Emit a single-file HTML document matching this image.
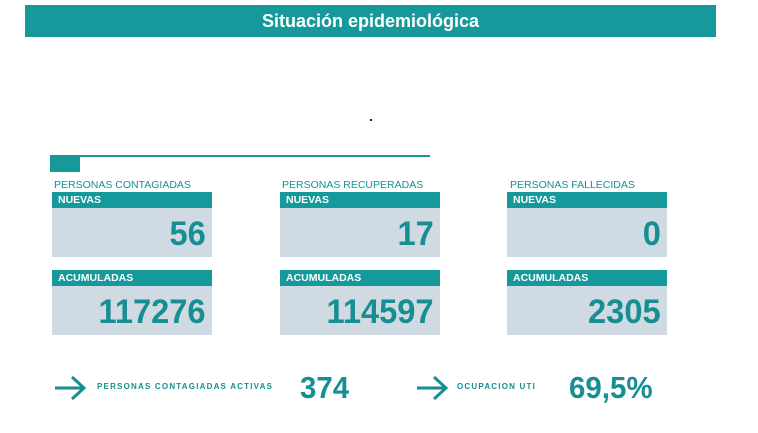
<!DOCTYPE html>
<html><head><meta charset="utf-8"><style>
body{margin:0;width:758px;height:433px;background:#fff;position:relative;overflow:hidden;font-family:"Liberation Sans",sans-serif;}
.a{position:absolute}
.hdr{left:25px;top:5px;width:691px;height:32px;background:#16999a;color:#fff;font-weight:bold;font-size:18px;text-align:center;line-height:32px}
.lbl{font-size:10.5px;color:#178f92;}
.bh{background:#16999a;color:#fff;font-weight:bold;font-size:10.5px;line-height:16px;padding-left:6px;box-sizing:border-box;width:160px;height:16px}
.bb{background:#d0dae2;width:160px;height:49px;box-sizing:border-box;padding-right:6px;text-align:right}
.bb span{display:inline-block;color:#178f92;font-weight:bold;font-size:34px;line-height:52px;transform:scaleX(0.96);transform-origin:right}
.num{color:#178f92;font-weight:bold;font-size:31px;transform:scaleX(0.95);transform-origin:left}
.sm{color:#178f92;font-size:8px;font-weight:bold;letter-spacing:1.2px}
</style></head><body>
<div class="a hdr">Situación epidemiológica</div>
<div class="a" style="left:370px;top:119px;width:2px;height:2px;background:#222"></div>
<div class="a" style="left:50px;top:155px;width:380px;height:2px;background:#16999a"></div>
<div class="a" style="left:50px;top:156px;width:30px;height:16px;background:#16999a"></div>

<div class="a lbl" style="left:54px;top:179px">PERSONAS CONTAGIADAS</div>
<div class="a lbl" style="left:282px;top:179px">PERSONAS RECUPERADAS</div>
<div class="a lbl" style="left:510px;top:179px">PERSONAS FALLECIDAS</div>

<div class="a bh" style="left:52px;top:192px">NUEVAS</div>
<div class="a bb" style="left:52px;top:208px"><span>56</span></div>
<div class="a bh" style="left:280px;top:192px">NUEVAS</div>
<div class="a bb" style="left:280px;top:208px"><span>17</span></div>
<div class="a bh" style="left:507px;top:192px">NUEVAS</div>
<div class="a bb" style="left:507px;top:208px"><span>0</span></div>

<div class="a bh" style="left:52px;top:270px">ACUMULADAS</div>
<div class="a bb" style="left:52px;top:286px"><span>117276</span></div>
<div class="a bh" style="left:280px;top:270px">ACUMULADAS</div>
<div class="a bb" style="left:280px;top:286px"><span>114597</span></div>
<div class="a bh" style="left:507px;top:270px">ACUMULADAS</div>
<div class="a bb" style="left:507px;top:286px"><span>2305</span></div>

<svg class="a" style="left:52px;top:374px" width="36" height="28"><path d="M3 14H32M20 3L32 14L20 25" fill="none" stroke="#178f92" stroke-width="3"/></svg>
<div class="a sm" style="left:97px;top:382px">PERSONAS CONTAGIADAS ACTIVAS</div>
<div class="a num" style="left:300px;top:370px">374</div>
<svg class="a" style="left:414px;top:374px" width="36" height="28"><path d="M3 14H32M20 3L32 14L20 25" fill="none" stroke="#178f92" stroke-width="3"/></svg>
<div class="a sm" style="left:457px;top:382px">OCUPACION UTI</div>
<div class="a num" style="left:569px;top:370px">69,5%</div>
</body></html>
